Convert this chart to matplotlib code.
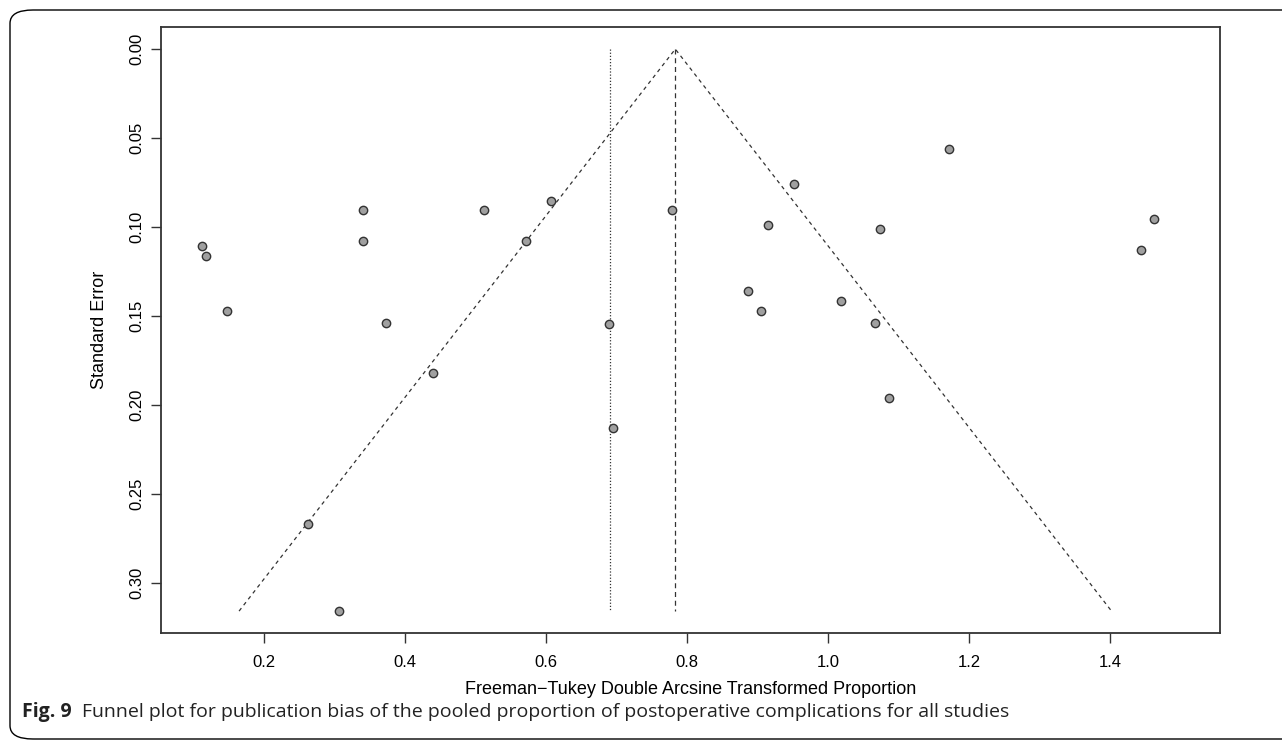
import matplotlib
matplotlib.use("Agg")
import matplotlib.pyplot as plt
from matplotlib.patches import FancyBboxPatch

# Freeman-Tukey transformed proportions and their standard errors
effect = [0.111, 0.117, 0.147, 0.340, 0.340, 0.372, 0.440, 0.262, 0.306,
          0.511, 0.571, 0.606, 0.779, 0.689, 0.695,
          0.951, 0.914, 1.073, 1.444, 0.886, 0.904, 1.018, 1.066, 1.086,
          1.171, 1.462]
std_err = [0.1104, 0.1163, 0.1474, 0.0904, 0.1077, 0.1541, 0.1822, 0.2669, 0.3157,
           0.0906, 0.1079, 0.0852, 0.0906, 0.1543, 0.2131,
           0.0758, 0.0991, 0.1011, 0.1131, 0.1360, 0.1474, 0.1414, 0.1541, 0.1961,
           0.0562, 0.0955]

pooled_fixed = 0.783
pooled_random = 0.691
se_max = 0.3157

xticks = [0.2, 0.4, 0.6, 0.8, 1.0, 1.2, 1.4]
yticks = [0.00, 0.05, 0.10, 0.15, 0.20, 0.25, 0.30]

plt.rcParams['font.family'] = ['Liberation Sans', 'DejaVu Sans']

fig = plt.figure(figsize=(12.82, 7.40), dpi=100)

# rounded frame around the figure (open on the right like the journal layout)
frame = FancyBboxPatch((10 / 1282, 1 / 740), 1.2, 729 / 740,
                       boxstyle="round,pad=0,rounding_size=0.018",
                       transform=fig.transFigure, fill=False,
                       edgecolor='black', linewidth=1.0, clip_on=False)
fig.patches.append(frame)

ax = fig.add_axes([161 / 1282, 1 - 633 / 740, (1220 - 161) / 1282, (633 - 27) / 740])

# funnel
ax.plot([pooled_fixed - 1.96 * se_max, pooled_fixed, pooled_fixed + 1.96 * se_max],
        [se_max, 0, se_max], color='#333333', linestyle=(0, (3, 3)), linewidth=0.9)
ax.plot([pooled_fixed, pooled_fixed], [0, se_max], color='#333333',
        linestyle=(0, (4, 3)), linewidth=0.9)
ax.plot([pooled_random, pooled_random], [0, se_max], color='#333333',
        linestyle=(0, (1, 1.5)), linewidth=0.9)

ax.plot(effect, std_err, linestyle='none', marker='o', markersize=6,
        markerfacecolor='#a0a0a0', markeredgecolor='#333333', markeredgewidth=1.0)

ax.set_xlim(0.0535, 1.5556)
ax.set_ylim(0.3280, -0.0124)
ax.set_xticks(xticks)
ax.set_xticklabels([f"{v:.1f}" for v in xticks])
ax.set_yticks(yticks)
ax.set_yticklabels([f"{v:.2f}" for v in yticks], rotation=90, va='center')
ax.tick_params(axis='both', direction='out', length=7, width=1.0, labelsize=12,
               color='#333333')
ax.tick_params(axis='x', pad=9)
ax.tick_params(axis='y', pad=5)
for s in ax.spines.values():
    s.set_linewidth(1.3)
    s.set_color('#333333')

ax.set_xlabel("Freeman\u2212Tukey Double Arcsine Transformed Proportion", fontsize=13, labelpad=8)
ax.set_ylabel("Standard Error", fontsize=13, labelpad=15)

# caption
cap_font = ['Open Sans', 'DejaVu Sans']
t1 = fig.text(22 / 1282, 1 - 712 / 740, "Fig. 9", fontsize=14, fontweight='bold',
              family=cap_font, va='center', ha='left', color='#222222')
fig.canvas.draw()
bb = t1.get_window_extent()
fig.text((bb.x1 + 10) / 1282, 1 - 712 / 740,
         "Funnel plot for publication bias of the pooled proportion of postoperative complications for all studies",
         fontsize=14, family=cap_font, va='center', ha='left', color='#222222')

fig.savefig("out.png", dpi=100)
